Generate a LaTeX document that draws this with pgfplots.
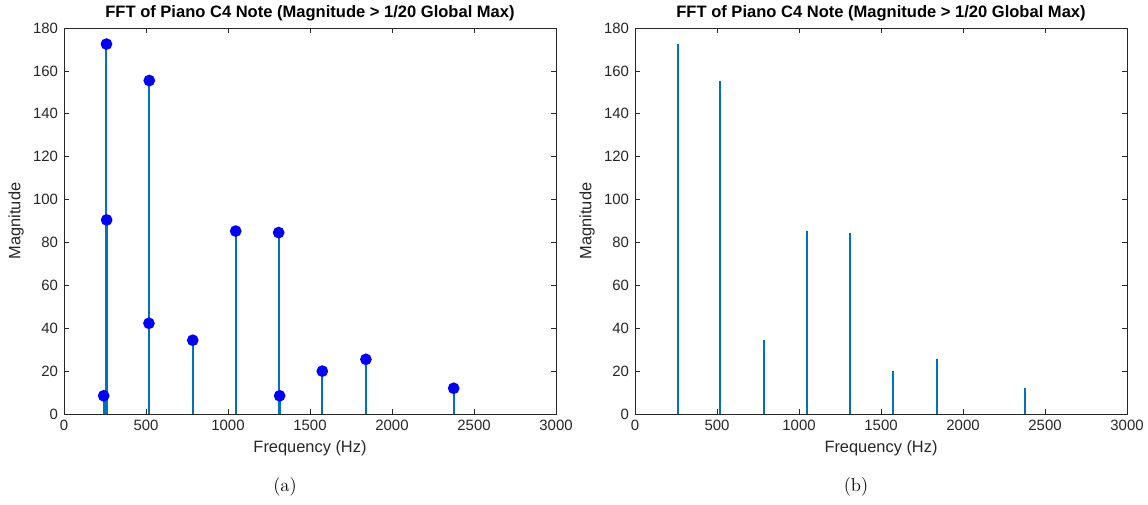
\documentclass[border=0pt]{standalone}
\usepackage{fontspec}
\usepackage{pgfplots}
\pgfplotsset{compat=1.18}
\newfontfamily\arial{Liberation Sans}
\definecolor{mblue}{HTML}{0072BD}
\definecolor{axgray}{gray}{0.15}

% peaks kept after the 1/20 threshold
\pgfplotstableread{
f     mag
242   8.5
259   172.5
260   90.5
518   42.3
520   155.5
785   34.4
1047  85.3
1309  84.6
1315  8.5
1575  20.0
1841  25.5
2376  12.0
}\peaks

\pgfplotstableread{
f     mag
260   172.5
520   155.5
785   34.4
1047  85.3
1309  84.6
1575  20.0
1841  25.5
2376  12.0
}\peaksb

\pgfplotsset{
  fftax/.style={
    scale only axis,
    width=369pt, height=289.5pt,
    xmin=0, xmax=3000, ymin=0, ymax=180,
    xtick={0,500,...,3000}, ytick={0,20,...,180},
    tick align=inside,
    major tick length=3.5pt,
    axis line style={axgray, line width=0.5pt},
    tick style={axgray, line width=0.5pt},
    every tick label/.append style={font=\arial\fontsize{11.2}{13}\selectfont, text=axgray},
    xticklabel style={yshift=-1pt},
    yticklabel style={xshift=-1pt},
    /pgf/number format/assume math mode=true,
    /pgf/number format/1000 sep={},
    scaled ticks=false,
    title={\bfseries FFT of Piano C4 Note (Magnitude > 1/20 Global Max)},
    title style={font=\arial\fontsize{12.4}{14}\selectfont, yshift=-4pt},
    xlabel={Frequency (Hz)}, ylabel={Magnitude},
    label style={font=\arial\fontsize{12.3}{14}\selectfont, text=axgray},
    xlabel style={yshift=-1pt},
    ylabel style={yshift=0pt},
    clip=false,
  },
}

\begin{document}
\begin{tikzpicture}
\useasboundingbox (-48pt,-67.5pt) rectangle (813pt,310.5pt);
\begin{axis}[fftax, at={(0,0)}, anchor=south west]
\addplot[ycomb, mblue, line width=1.5pt,
  mark=*, mark size=3.6pt, mark options={fill=blue, draw=blue}]
  table[x=f, y=mag] {\peaks};
\end{axis}
\node[font=\fontsize{14}{16}\selectfont] at (165.75pt,-55pt) {(a)};

\begin{axis}[fftax, at={(428.25pt,0)}, anchor=south west]
\addplot[ycomb, mblue, line width=1.5pt, mark=none]
  table[x=f, y=mag] {\peaksb};
\end{axis}
\node[font=\fontsize{14}{16}\selectfont] at (594pt,-55pt) {(b)};
\end{tikzpicture}
\end{document}
